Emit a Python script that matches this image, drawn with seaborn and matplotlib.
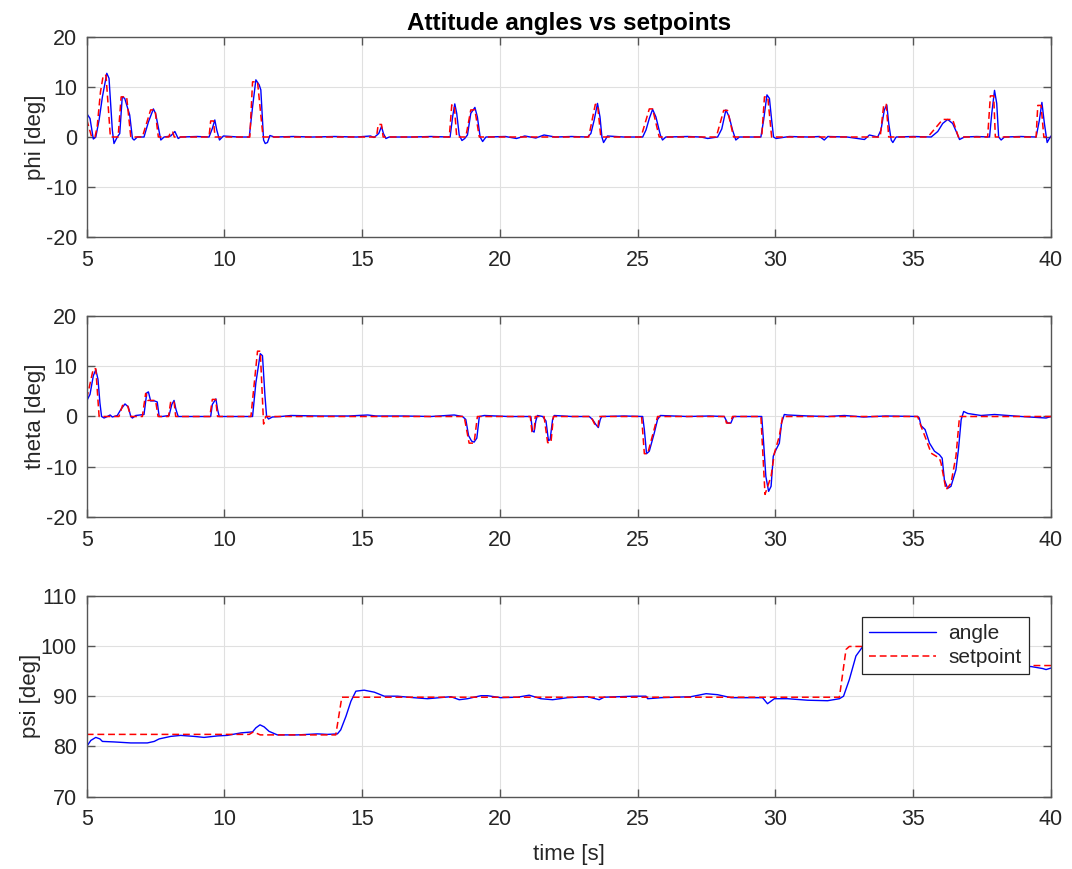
import matplotlib
matplotlib.use("Agg")
import matplotlib.pyplot as plt
import seaborn as sns
import pandas as pd

# ---------------- data ----------------
phi_angle_t = [5.00, 5.12, 5.24, 5.33, 5.45, 5.57, 5.73, 5.81, 5.93, 5.99, 6.11, 6.20, 6.29, 6.38, 6.56, 6.66,
               6.72, 6.84, 7.08, 7.24, 7.42, 7.50, 7.69, 7.81, 8.05, 8.20, 8.32, 8.41, 9.00, 9.44, 9.56, 9.65,
               9.72, 9.82, 9.96, 10.50, 10.90, 11.02, 11.14, 11.26, 11.32, 11.42, 11.48, 11.56, 11.65, 11.81,
               12.5, 13.2, 14.0, 14.8, 15.30, 15.43, 15.60, 15.70, 15.77, 15.86, 15.98, 16.8, 17.5, 18.19,
               18.28, 18.36, 18.43, 18.52, 18.62, 18.72, 18.82, 18.94, 19.09, 19.18, 19.28, 19.37, 19.49,
               20.2, 20.6, 20.9, 21.3, 21.6, 22.0, 22.6, 23.18, 23.30, 23.42, 23.54, 23.63, 23.70, 23.76,
               23.85, 23.90, 24.5, 25.18, 25.30, 25.42, 25.54, 25.66, 25.82, 25.90, 26.02, 26.8, 27.3, 27.54,
               27.90, 28.05, 28.20, 28.32, 28.44, 28.56, 28.69, 29.47, 29.57, 29.69, 29.78, 29.86, 29.93,
               30.02, 30.5, 31.2, 31.6, 31.77, 31.9, 32.6, 33.23, 33.41, 33.71, 33.83, 33.95, 34.04, 34.11,
               34.20, 34.26, 34.38, 35.0, 35.65, 35.89, 36.07, 36.25, 36.43, 36.56, 36.68, 36.86, 37.3,
               37.77, 37.85, 37.95, 38.03, 38.10, 38.19, 38.31, 38.9, 39.46, 39.58, 39.67, 39.76, 39.86,
               39.94, 40.00]
phi_angle_v = [4.7, 3.7, -0.4, 0.0, 3.4, 8.0, 12.7, 11.7, 1.4, -1.3, 0.0, 0.7, 8.0, 7.7, 4.4, -0.3,
               -0.6, 0.0, 0.0, 3.0, 5.6, 4.7, -0.6, 0.0, 0.2, 1.1, -0.3, 0.0, 0.1, 0.0, 1.7, 3.4,
               1.4, -0.6, 0.2, 0.0, 0.0, 6.0, 11.4, 10.4, 9.4, -0.6, -1.3, -1.1, 0.3, 0.0,
               0.1, 0.0, 0.1, 0.0, 0.2, -0.1, 0.7, 2.1, 0.7, -0.3, 0.0, 0.0, 0.1, 0.0,
               4.0, 6.6, 4.7, 0.4, -0.7, -0.3, 0.4, 4.7, 5.9, 4.0, 0.0, -0.9, 0.0,
               0.1, -0.3, 0.2, -0.2, 0.4, 0.0, 0.1, 0.0, 0.7, 3.4, 6.7, 4.0, 0.0, -1.1,
               -0.3, 0.2, 0.0, 0.0, 1.4, 3.7, 5.5, 4.0, 0.4, -0.6, 0.0, 0.1, 0.0, -0.3,
               0.0, 1.6, 5.4, 4.0, 1.4, -0.6, 0.0, 0.0, 3.4, 8.4, 7.7, 3.4, 0.0,
               -0.3, 0.1, 0.0, 0.1, -0.6, 0.1, 0.0, -0.5, 0.4, 0.0, 1.4, 5.4, 6.4, 2.7,
               -0.6, -1.1, 0.0, 0.1, 0.0, 1.1, 2.7, 3.5, 2.7, 1.1, -0.5, 0.0, 0.1,
               0.0, 4.7, 9.3, 6.7, 0.0, -0.6, 0.0, 0.1, 0.0, 3.4, 6.9, 2.7, -1.1,
               -0.3, 0.2]

phi_sp_t = [5.00, 5.18, 5.30, 5.38, 5.50, 5.60, 5.70, 5.86, 6.14, 6.25, 6.45, 6.60, 7.02, 7.32, 7.48, 7.60,
            7.98, 8.04, 8.12, 8.18, 9.44, 9.50, 9.60, 9.66, 10.92, 11.02, 11.20, 11.40, 15.52, 15.58, 15.70,
            15.76, 18.16, 18.25, 18.34, 18.43, 18.76, 18.94, 19.09, 19.25, 23.22, 23.46, 23.54, 23.66,
            25.12, 25.42, 25.54, 25.78, 27.85, 28.12, 28.26, 28.48, 29.50, 29.60, 29.72, 29.86, 33.80,
            33.93, 34.02, 34.11, 35.53, 36.07, 36.43, 36.64, 37.70, 37.80, 37.92, 37.98, 39.46, 39.52,
            39.64, 39.74, 40.00]
phi_sp_v = [3.5, 0.0, 0.0, 2.0, 9.0, 12.3, 12.3, 0.0, 0.0, 8.0, 8.0, 0.0, 0.0, 5.4, 5.4, 0.0,
            0.0, 1.0, 1.0, 0.0, 0.0, 3.2, 3.2, 0.0, 0.0, 11.0, 11.0, 0.0, 0.0, 2.5, 2.5,
            0.0, 0.0, 6.4, 6.4, 0.0, 0.0, 5.4, 5.4, 0.0, 0.0, 6.5, 6.5, 0.0,
            0.0, 5.6, 5.6, 0.0, 0.0, 5.3, 5.3, 0.0, 0.0, 8.0, 8.0, 0.0, 0.0,
            6.5, 6.5, 0.0, 0.0, 3.5, 3.5, 0.0, 0.0, 8.2, 8.2, 0.0, 0.0, 6.3,
            6.3, 0.0, 0.0]

theta_angle_t = [5.00, 5.12, 5.24, 5.33, 5.41, 5.48, 5.54, 5.63, 5.75, 5.85, 5.93, 6.11, 6.24, 6.39, 6.51,
                 6.60, 6.66, 6.78, 7.08, 7.18, 7.24, 7.32, 7.46, 7.56, 7.63, 7.74, 7.99, 8.09, 8.17, 8.24,
                 8.32, 9.00, 9.50, 9.56, 9.69, 9.75, 9.81, 10.5, 11.02, 11.14, 11.30, 11.38, 11.47, 11.53,
                 11.60, 11.74, 12.05, 12.41, 13.5, 14.5, 15.2, 15.5, 16.5, 17.5, 18.34, 18.64, 18.76,
                 18.86, 18.97, 19.06, 19.16, 19.25, 19.43, 20.3, 21.12, 21.18, 21.24, 21.30, 21.36, 21.55,
                 21.67, 21.76, 21.82, 21.91, 21.97, 22.6, 23.24, 23.36, 23.48, 23.57, 23.64, 23.69, 24.5,
                 25.18, 25.24, 25.32, 25.42, 25.60, 25.72, 25.82, 26.8, 27.6, 28.14, 28.26, 28.38, 28.48,
                 29.50, 29.57, 29.65, 29.75, 29.84, 29.92, 30.02, 30.14, 30.22, 30.32, 30.44, 31.2, 31.9,
                 32.5, 33.2, 34.0, 35.16, 35.22, 35.28, 35.43, 35.59, 35.77, 35.95, 36.05, 36.13, 36.25,
                 36.37, 36.55, 36.64, 36.74, 36.83, 36.98, 37.46, 37.95, 38.92, 39.82, 40.00]
theta_angle_v = [3.1, 4.4, 8.1, 9.3, 7.4, 2.7, 0.0, -0.3, 0.0, 0.3, -0.1, 0.2, 1.4, 2.5, 1.9,
                 0.0, -0.3, 0.2, 0.4, 4.7, 4.9, 3.1, 3.1, 2.9, 0.0, 0.0, 0.2, 2.4, 3.2, 1.4,
                 0.0, 0.0, 0.0, 2.4, 3.5, 1.4, 0.0, 0.0, 0.0, 6.7, 12.5, 12.1, 4.1, 0.0,
                 -0.5, -0.1, 0.0, 0.2, 0.1, 0.1, 0.3, 0.1, 0.1, 0.0, 0.3, 0.0, -0.6,
                 -3.8, -4.9, -5.1, -4.3, 0.0, 0.2, 0.0, 0.0, -2.9, -3.1, -0.9, 0.2, 0.0,
                 -0.9, -4.8, -4.6, -0.6, 0.2, 0.0, 0.0, -0.6, -1.6, -2.2, -0.6, 0.0, 0.1,
                 0.0, -2.6, -7.4, -6.9, -3.3, -0.6, 0.2, 0.0, 0.1, 0.0, -1.3, -1.3, 0.0,
                 0.0, -5.3, -11.9, -14.9, -13.9, -7.9, -6.6, -5.3, -1.3, 0.4, 0.3, 0.1, 0.0,
                 0.2, -0.1, 0.1, 0.0, -0.3, -1.8, -2.6, -5.3, -6.9, -7.6, -8.3, -12.6, -14.3,
                 -13.9, -10.6, -6.6, -0.6, 1.0, 0.6, 0.2, 0.4, 0.0, -0.3, 0.0]

theta_sp_t = [5.00, 5.24, 5.33, 5.45, 6.17, 6.30, 6.48, 6.60, 7.02, 7.14, 7.22, 7.50, 7.59, 7.97, 8.05,
              8.17, 8.23, 9.47, 9.56, 9.68, 9.75, 10.96, 11.20, 11.30, 11.42, 11.50, 18.70, 18.88, 19.06,
              19.18, 21.10, 21.16, 21.24, 21.28, 21.60, 21.73, 21.85, 21.94, 23.30, 23.48, 23.56, 23.60,
              25.14, 25.24, 25.36, 25.72, 28.16, 28.22, 28.36, 28.44, 29.47, 29.62, 29.84, 29.96, 30.14,
              30.26, 35.16, 35.28, 35.47, 35.65, 35.95, 36.01, 36.19, 36.37, 36.55, 36.68, 40.00]
theta_sp_v = [3.5, 9.5, 9.5, 0.0, 0.0, 2.2, 2.2, 0.0, 0.0, 4.6, 3.2, 3.2, 0.0, 0.0, 3.0,
              3.0, 0.0, 0.0, 3.4, 3.4, 0.0, 0.0, 13.0, 13.0, -1.5, 0.0, 0.0, -5.3, -5.3,
              0.0, 0.0, -3.0, -3.0, 0.0, 0.0, -5.2, -5.2, 0.0, 0.0, -2.0, -2.0, 0.0,
              0.0, -7.4, -7.4, 0.0, 0.0, -1.3, -1.3, 0.0, 0.0, -15.5, -11.9, -7.3, -3.9,
              0.0, 0.0, -1.9, -4.6, -7.3, -8.3, -9.3, -14.6, -13.3, -7.9, 0.0, 0.0]

psi_angle_t = [5.00, 5.15, 5.33, 5.48, 5.57, 5.99, 6.60, 7.20, 7.45, 7.63, 8.05, 8.41, 8.90, 9.26, 9.75,
               10.10, 10.60, 11.02, 11.14, 11.29, 11.44, 11.62, 11.92, 12.65, 13.38, 13.74, 14.10, 14.22,
               14.41, 14.59, 14.77, 15.07, 15.44, 15.80, 16.28, 16.88, 17.37, 18.22, 18.52, 18.82, 19.31,
               19.55, 20.03, 20.64, 21.06, 21.48, 21.91, 22.45, 23.18, 23.60, 23.78, 24.87, 25.30, 25.36,
               25.84, 26.93, 27.48, 27.90, 28.39, 29.53, 29.71, 29.96, 30.44, 31.17, 31.89, 32.32, 32.47,
               32.68, 32.92, 33.17, 33.6, 34.5, 35.5, 36.5, 38.0, 39.28, 39.70, 39.82, 40.00]
psi_angle_v = [80.0, 81.2, 81.8, 81.5, 81.0, 80.9, 80.7, 80.7, 81.0, 81.5, 82.0, 82.2, 82.0, 81.8, 82.1,
               82.2, 82.7, 82.9, 83.7, 84.3, 83.9, 83.0, 82.3, 82.3, 82.5, 82.4, 82.5, 83.3,
               86.0, 89.0, 91.0, 91.2, 90.8, 90.0, 90.0, 89.7, 89.5, 89.9, 89.3, 89.5, 90.1,
               90.1, 89.7, 89.8, 90.2, 89.5, 89.3, 89.7, 89.9, 89.3, 89.8, 90.0, 90.0, 89.5,
               89.7, 89.9, 90.5, 90.3, 89.7, 89.7, 88.5, 89.5, 89.5, 89.2, 89.1, 89.5, 90.0,
               93.3, 98.0, 99.9, 100.3, 99.5, 97.5, 96.3, 96.0, 95.9, 95.5, 95.3, 95.6]

psi_sp_t = [5.00, 10.90, 11.05, 11.30, 14.04, 14.26, 32.32, 32.56, 32.68, 36.0, 36.2, 40.0]
psi_sp_v = [82.4, 82.4, 82.9, 82.3, 82.3, 89.8, 89.8, 99.3, 99.9, 99.9, 96.1, 96.1]

x_ticks = [5, 10, 15, 20, 25, 30, 35, 40]
panels = [
    ("phi [deg]", phi_angle_t, phi_angle_v, phi_sp_t, phi_sp_v, (-20, 20), [-20, -10, 0, 10, 20]),
    ("theta [deg]", theta_angle_t, theta_angle_v, theta_sp_t, theta_sp_v, (-20, 20), [-20, -10, 0, 10, 20]),
    ("psi [deg]", psi_angle_t, psi_angle_v, psi_sp_t, psi_sp_v, (70, 110), [70, 80, 90, 100, 110]),
]

# ---------------- style ----------------
sns.set_theme(style="white")
plt.rcParams["font.family"] = ["Liberation Sans", "DejaVu Sans"]
plt.rcParams["axes.unicode_minus"] = False
axc = "#555555"
txtc = "#262626"

fig = plt.figure(figsize=(10.72, 8.69), dpi=100)
L, R = 86.7 / 1072, 1051 / 1072
tops = [36.7, 316.0, 595.7]
bots = [237.3, 517.0, 796.7]

for i, (ylab, at, av, st, sv, ylim, yt) in enumerate(panels):
    y0 = 1 - bots[i] / 869
    h = (bots[i] - tops[i]) / 869
    ax = fig.add_axes([L, y0, R - L, h])
    da = pd.DataFrame({"time": at, "value": av})
    ds = pd.DataFrame({"time": st, "value": sv})
    sns.lineplot(data=da, x="time", y="value", ax=ax, color="#0000ff", lw=1.0,
                 estimator=None, sort=False, label="angle")
    sns.lineplot(data=ds, x="time", y="value", ax=ax, color="#ff0000", lw=1.1,
                 estimator=None, sort=False, label="setpoint", linestyle=(0, (4.5, 2.5)))
    ax.set_xlim(5, 40)
    ax.set_ylim(*ylim)
    ax.set_xticks(x_ticks)
    ax.set_yticks(yt)
    ax.grid(True, color="#e0e0e0", lw=0.8)
    ax.set_axisbelow(True)
    for s in ax.spines.values():
        s.set_color(axc)
        s.set_linewidth(1.0)
        s.set_visible(True)
    ax.tick_params(direction="in", top=True, right=True, length=6, width=1.0,
                   color=axc, labelcolor=txtc, labelsize=15.5, pad=7,
                   bottom=True, left=True)
    ax.tick_params(axis="x", pad=9)
    ax.set_ylabel(ylab, fontsize=16, color=txtc, labelpad=0)
    if i == 2:
        ax.set_xlabel("time [s]", fontsize=16, color=txtc, labelpad=10)
        leg = ax.legend(loc="upper right", bbox_to_anchor=(0.977, 0.896), fontsize=15,
                        handlelength=3.2, fancybox=False, frameon=True, framealpha=1.0,
                        borderpad=0.35, labelspacing=0.25, handletextpad=0.6, borderaxespad=0)
        leg.get_frame().set_edgecolor("#262626")
        leg.get_frame().set_linewidth(0.9)
        leg.get_frame().set_facecolor("white")
    else:
        ax.set_xlabel("")
        if ax.get_legend() is not None:
            ax.get_legend().remove()
    if i == 0:
        ax.set_title("Attitude angles vs setpoints", fontsize=17.5, fontweight="bold",
                     color="black", pad=5)

fig.savefig("out.png", dpi=100)
